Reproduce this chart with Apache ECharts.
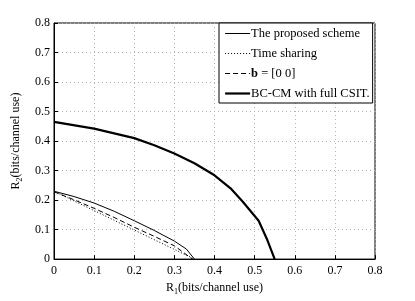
<!DOCTYPE html>
<html><head><meta charset="utf-8">
<script src="https://cdn.jsdelivr.net/npm/echarts@6/dist/echarts.min.js"></script>
<style>html,body{margin:0;padding:0;background:#fff}#c{width:415px;height:301px}</style>
</head><body><div id="c"></div>
<script>
const seriesNames = ['The proposed scheme', 'Time sharing', 'b = [0 0]', 'BC-CM with full CSIT.'];
const proposedX = [0, 0.05, 0.1, 0.15, 0.2, 0.25, 0.3, 0.33, 0.35];
const proposedY = [0.23, 0.212, 0.19, 0.162, 0.13, 0.097, 0.061, 0.034, 0];
const timeSharingX = [0, 0.35];
const timeSharingY = [0.23, 0];
const zeroBX = [0, 0.05, 0.1, 0.15, 0.2, 0.25, 0.3, 0.345];
const zeroBY = [0.228, 0.201, 0.172, 0.141, 0.108, 0.077, 0.045, 0];
const fullCsitX = [0, 0.1, 0.2, 0.25, 0.3, 0.35, 0.4, 0.44, 0.47, 0.51, 0.53, 0.55];
const fullCsitY = [0.465, 0.442, 0.41, 0.386, 0.358, 0.325, 0.284, 0.24, 0.195, 0.13, 0.07, 0];
const xTicks = [0, 0.1, 0.2, 0.3, 0.4, 0.5, 0.6, 0.7, 0.8];
const yTicks = [0, 0.1, 0.2, 0.3, 0.4, 0.5, 0.6, 0.7, 0.8];

const pair = (xs, ys) => xs.map((x, i) => [x, ys[i]]);
const font = 'Liberation Serif';
const fmt = v => (v === 0 ? '0' : String(+v.toFixed(1)));
const styles = [
  { width: 1, type: 'solid' },
  { width: 1, type: [1, 2] },
  { width: 1, type: [5, 3] },
  { width: 2.2, type: 'solid' }
];

const chart = echarts.init(document.getElementById('c'));
const axisCommon = {
  min: xTicks[0], max: xTicks[xTicks.length - 1], interval: 0.1,
  axisLine: { show: true, onZero: false, lineStyle: { color: '#000', width: 1 } },
  axisTick: { show: true, inside: true, length: 4, lineStyle: { color: '#000' } },
  splitLine: { show: true, lineStyle: { color: '#b0b0b0', type: [1, 3], width: 1 } },
  axisLabel: { fontFamily: font, fontSize: 12, color: '#000', formatter: fmt }
};
function series(name, xs, ys, style) {
  return { name, type: 'line', data: pair(xs, ys), symbol: 'none', showSymbol: false,
    lineStyle: Object.assign({ color: '#000' }, style), itemStyle: { color: '#000' },
    animation: false, silent: true };
}
chart.setOption({
  animation: false,
  grid: { left: 54, right: 40, top: 23, bottom: 34, show: true, borderColor: '#000', borderWidth: 1 },
  xAxis: Object.assign({}, axisCommon, {
    type: 'value',
    name: 'R{s|1}(bits/channel use)', nameLocation: 'middle', nameGap: 20,
    nameTextStyle: { fontFamily: font, fontSize: 12, color: '#000',
      rich: { s: { fontFamily: font, fontSize: 8, padding: [8, 0, 0, 0] } } },
    axisLabel: { fontFamily: font, fontSize: 12, color: '#000', formatter: fmt, margin: 6 }
  }),
  yAxis: Object.assign({}, axisCommon, {
    type: 'value',
    min: yTicks[0], max: yTicks[yTicks.length - 1],
    name: 'R{s|2}(bits/channel use)', nameLocation: 'middle', nameGap: 22,
    nameTextStyle: { fontFamily: font, fontSize: 12, color: '#000',
      rich: { s: { fontFamily: font, fontSize: 8, padding: [8, 0, 0, 0] } } },
    axisLabel: { fontFamily: font, fontSize: 12, color: '#000', formatter: fmt, margin: 4 }
  }),
  legend: {
    orient: 'vertical', left: 219, top: 23,
    backgroundColor: '#fff', borderColor: '#000', borderWidth: 1,
    padding: [4, 3, 3, 5], itemGap: 7, itemWidth: 25, itemHeight: 12,
    itemStyle: { opacity: 0 },
    textStyle: { fontFamily: font, fontSize: 12.5, color: '#000', padding: [0, 0, 0, -4],
      rich: { b: { fontFamily: font, fontSize: 12.5, fontWeight: 'bold' } } },
    formatter: n => n === 'b = [0 0]' ? '{b|b} = [0 0]' : n,
    data: seriesNames.map((n, i) => ({ name: n, lineStyle: Object.assign({ color: '#000' }, styles[i]) }))
  },
  series: seriesNames.map((n, i) => series(n,
    [proposedX, timeSharingX, zeroBX, fullCsitX][i],
    [proposedY, timeSharingY, zeroBY, fullCsitY][i], styles[i]))
});
</script></body></html>
